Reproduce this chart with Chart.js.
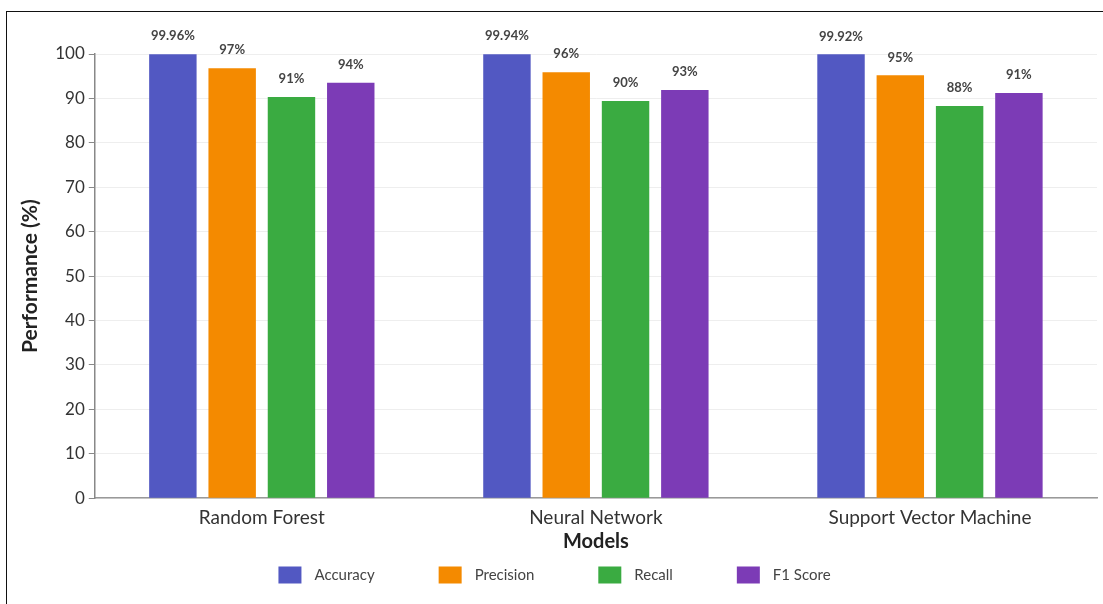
<!DOCTYPE html>
<html>
<head>
<meta charset="utf-8">
<script src="https://cdn.jsdelivr.net/npm/chart.js@4.4.1/dist/chart.umd.min.js"></script>
<style>
  html, body { margin: 0; padding: 0; background: #fff; }
  #wrap { position: relative; width: 1103px; height: 604px; overflow: hidden; }
  #frame { position: absolute; left: 6px; top: 11px; right: -10px; bottom: -10px;
           border-top: 1.5px solid #111; border-left: 1.5px solid #111; pointer-events: none; }
  canvas { position: absolute; left: 0; top: 0; }
</style>
</head>
<body>
<div id="wrap">
  <canvas id="chart" width="1103" height="604"></canvas>
  <div id="frame"></div>
</div>
<script>
const models = ['Random Forest', 'Neural Network', 'Support Vector Machine'];
const accuracy = [99.96, 99.94, 99.92];
const precision = [96.8, 95.9, 95.2];
const recall = [90.3, 89.4, 88.3];
const f1Score = [93.5, 91.9, 91.2];
const accuracyLabels = ['99.96%', '99.94%', '99.92%'];
const precisionLabels = ['97%', '96%', '95%'];
const recallLabels = ['91%', '90%', '88%'];
const f1Labels = ['94%', '93%', '91%'];
const yTicks = [0, 10, 20, 30, 40, 50, 60, 70, 80, 90, 100];

const FONT = 'Lato, "Open Sans", sans-serif';

function series(label, data, labels, color) {
  return {
    label, data, valueLabels: labels,
    backgroundColor: color,
    borderWidth: 0,
    categoryPercentage: 0.71,
    barPercentage: 0.8
  };
}

// draws the text above each bar
const barLabels = {
  id: 'barLabels',
  afterDatasetsDraw(chart) {
    const ctx = chart.ctx;
    ctx.save();
    ctx.font = 'bold 13px ' + FONT;
    ctx.fillStyle = '#444';
    ctx.textAlign = 'center';
    ctx.textBaseline = 'middle';
    chart.data.datasets.forEach((ds, di) => {
      const meta = chart.getDatasetMeta(di);
      meta.data.forEach((bar, i) => {
        ctx.fillText(ds.valueLabels[i], bar.x, bar.y - 18);
      });
    });
    ctx.restore();
  }
};

// legend with wider spacing than the built-in one allows
const spacedLegend = {
  id: 'spacedLegend',
  afterDraw(chart, args, opts) {
    const ctx = chart.ctx;
    const sets = chart.data.datasets;
    ctx.save();
    ctx.font = opts.fontSize + 'px ' + FONT;
    ctx.textBaseline = 'middle';
    const widths = sets.map(ds => opts.boxW + opts.textGap + ctx.measureText(ds.label).width);
    const total = widths.reduce((a, b) => a + b, 0) + opts.itemGap * (sets.length - 1);
    let x = (chart.width - total) / 2 + opts.shift;
    const y = opts.y;
    sets.forEach((ds, i) => {
      ctx.fillStyle = ds.backgroundColor;
      ctx.fillRect(x, y - opts.boxH / 2, opts.boxW, opts.boxH);
      ctx.fillStyle = '#444';
      ctx.fillText(ds.label, x + opts.boxW + opts.textGap, y);
      x += widths[i] + opts.itemGap;
    });
    ctx.restore();
  }
};

new Chart(document.getElementById('chart'), {
  type: 'bar',
  data: {
    labels: models,
    datasets: [
      series('Accuracy', accuracy, accuracyLabels, '#5258c2'),
      series('Precision', precision, precisionLabels, '#f48a00'),
      series('Recall', recall, recallLabels, '#3aab41'),
      series('F1 Score', f1Score, f1Labels, '#7c3bb6')
    ]
  },
  options: {
    responsive: false,
    animation: false,
    layout: { padding: { top: 54, right: 6, left: 14, bottom: 46 } },
    plugins: {
      legend: { display: false },
      tooltip: { enabled: false },
      spacedLegend: { y: 575, boxW: 23, boxH: 17, textGap: 13, itemGap: 64, fontSize: 15, shift: 3 }
    },
    scales: {
      x: {
        grid: { display: false },
        border: { color: '#999', width: 1.5 },
        ticks: { color: '#333', font: { family: FONT, size: 19 }, padding: 0 },
        title: { display: true, text: 'Models', color: '#222', font: { family: FONT, size: 20, weight: 'bold' }, padding: { top: 1, bottom: 4 } }
      },
      y: {
        min: 0, max: 100,
        afterBuildTicks: (axis) => { axis.ticks = yTicks.map(v => ({ value: v })); },
        grid: { color: '#eeeeee', tickColor: '#888', tickLength: 6 },
        border: { color: '#888', width: 1.5 },
        ticks: { color: '#333', font: { family: FONT, size: 17 }, padding: 4 },
        title: { display: true, text: 'Performance (%)', color: '#222', font: { family: FONT, size: 21, weight: 'bold' }, padding: { bottom: 8 } }
      }
    }
  },
  plugins: [barLabels, spacedLegend]
});
</script>
</body>
</html>
